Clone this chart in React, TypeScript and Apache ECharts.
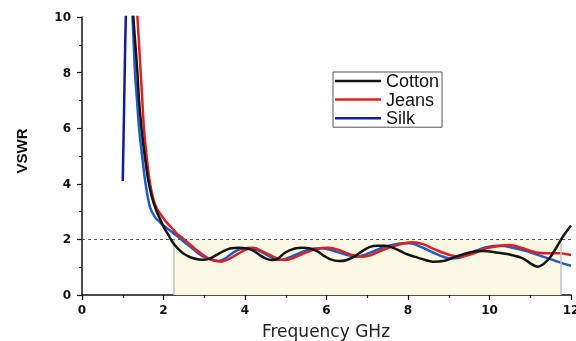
import React, { useEffect, useRef } from "react";
import * as echarts from "echarts";

const seriesNames = ["Cotton", "Jeans", "Silk"];
const xTicks = [0, 2, 4, 6, 8, 10, 12];
const yTicks = [0, 2, 4, 6, 8, 10];
const bandStart = 2.25;
const bandEnd = 11.75;
const vswrLimit = 2;

const cotton: number[][] = [
  [1.22, 11], [1.26, 10], [1.31, 9], [1.36, 8], [1.4, 7.0], [1.46, 6.0], [1.54, 5.0], [1.63, 4.1], [1.72, 3.5],
  [1.82, 3.05], [1.92, 2.72], [2.0, 2.46], [2.12, 2.16], [2.24, 1.86], [2.36, 1.66], [2.48, 1.5],
  [2.6, 1.4], [2.73, 1.32], [2.87, 1.28], [3.0, 1.27], [3.15, 1.32], [3.3, 1.44], [3.45, 1.56],
  [3.63, 1.67], [3.85, 1.7], [4.05, 1.67], [4.2, 1.6], [4.35, 1.45], [4.5, 1.32], [4.65, 1.26],
  [4.8, 1.3], [4.98, 1.52], [5.22, 1.67], [5.4, 1.7], [5.6, 1.67], [5.79, 1.56], [5.95, 1.4],
  [6.1, 1.28], [6.3, 1.22], [6.5, 1.26], [6.7, 1.4], [6.86, 1.56], [7.05, 1.72], [7.25, 1.77],
  [7.43, 1.77], [7.67, 1.68], [7.92, 1.5], [8.16, 1.38], [8.4, 1.27], [8.61, 1.2], [8.86, 1.22],
  [9.18, 1.38], [9.51, 1.53], [9.84, 1.58], [10.16, 1.53], [10.49, 1.46], [10.82, 1.32],
  [11.0, 1.14], [11.18, 1.02], [11.31, 1.1], [11.47, 1.32], [11.63, 1.68], [11.8, 2.1], [12.0, 2.5],
];

const jeans: number[][] = [
  [1.32, 11], [1.36, 10], [1.4, 9], [1.44, 8], [1.48, 7], [1.52, 6], [1.585, 5], [1.67, 4], [1.76, 3.4], [1.84, 3.1],
  [1.91, 2.94], [2.07, 2.62], [2.2, 2.42], [2.32, 2.22], [2.45, 2.07], [2.57, 1.92], [2.69, 1.77],
  [2.81, 1.62], [2.97, 1.44], [3.1, 1.32], [3.22, 1.25], [3.42, 1.2], [3.56, 1.26], [3.71, 1.38],
  [3.95, 1.58], [4.2, 1.7], [4.44, 1.56], [4.69, 1.38], [4.85, 1.28], [5.0, 1.26], [5.2, 1.34],
  [5.45, 1.5], [5.75, 1.65], [6.05, 1.7], [6.3, 1.62], [6.6, 1.45], [6.88, 1.38], [7.1, 1.44],
  [7.35, 1.6], [7.65, 1.76], [7.9, 1.86], [8.1, 1.9], [8.37, 1.83], [8.69, 1.62], [9.02, 1.44],
  [9.26, 1.38], [9.59, 1.48], [9.92, 1.68], [10.25, 1.77], [10.49, 1.8], [10.82, 1.68],
  [11.14, 1.53], [11.47, 1.5], [11.71, 1.5], [12.0, 1.44],
];

const silkRise: number[][] = [
  [1.0, 4.1], [1.03, 6.5], [1.06, 9], [1.09, 11],
];

const silk: number[][] = [
  [1.2, 11], [1.24, 10], [1.27, 9], [1.3, 8], [1.35, 7], [1.4, 6], [1.475, 5], [1.56, 4], [1.67, 3.15], [1.79, 2.8],
  [1.91, 2.62], [2.0, 2.5], [2.16, 2.32], [2.28, 2.18], [2.4, 2.04], [2.52, 1.89], [2.65, 1.74],
  [2.77, 1.6], [2.89, 1.46], [3.02, 1.35], [3.14, 1.29], [3.34, 1.22], [3.5, 1.3], [3.63, 1.44],
  [3.75, 1.56], [3.87, 1.64], [4.12, 1.7], [4.36, 1.58], [4.61, 1.38], [4.82, 1.26], [5.0, 1.3],
  [5.2, 1.42], [5.45, 1.58], [5.7, 1.67], [5.9, 1.68], [6.15, 1.6], [6.45, 1.46], [6.73, 1.38],
  [6.95, 1.45], [7.2, 1.6], [7.5, 1.76], [7.8, 1.85], [8.04, 1.86], [8.37, 1.7], [8.69, 1.48],
  [9.02, 1.32], [9.26, 1.34], [9.59, 1.55], [9.92, 1.72], [10.25, 1.77], [10.57, 1.7],
  [10.9, 1.58], [11.31, 1.38], [11.63, 1.22], [12.0, 1.05],
];

const colors = { cotton: "#151515", jeans: "#e02020", silk: "#1f5cc6", silkDark: "#0c1c9c" };

export default function App() {
  const ref = useRef<HTMLDivElement>(null);
  useEffect(() => {
    if (!ref.current) return;
    const chart = echarts.init(ref.current, undefined, { renderer: "svg" });
    const tickFont = { fontFamily: "DejaVu Sans", fontWeight: "bold" as const, fontSize: 12, color: "#111" };
    const axisCommon = {
      type: "value" as const,
      interval: 2,
      axisLine: { show: true, onZero: false, lineStyle: { color: "#111", width: 1.5 } },
      axisTick: { show: true, inside: false, length: 5, lineStyle: { color: "#111", width: 1.2 } },
      minorTick: { show: true, splitNumber: 2, length: 3, lineStyle: { color: "#111", width: 1.2 } },
      splitLine: { show: false },
    };
    const lineBase = {
      type: "line" as const,
      showSymbol: false,
      smooth: 0.3,
      clip: true,
    };
    chart.setOption({
      animation: false,
      grid: { left: 82, right: 5, top: 17, bottom: 46, containLabel: false, outerBoundsMode: "none" },
      xAxis: {
        ...axisCommon,
        min: xTicks[0],
        max: xTicks[xTicks.length - 1],
        axisLabel: { ...tickFont, margin: 9 },
      },
      yAxis: {
        ...axisCommon,
        min: yTicks[0],
        max: yTicks[yTicks.length - 1],
        axisLabel: { ...tickFont, margin: 11 },
      },
      legend: {
        orient: "vertical",
        left: 333,
        top: 72,
        itemWidth: 46,
        itemHeight: 2.5,
        itemGap: 0.6,
        padding: [0, 3, 0, 2],
        borderColor: "#555",
        borderWidth: 1,
        textStyle: { fontFamily: "Liberation Sans, Arial", fontSize: 18, lineHeight: 18, color: "#111" },
        data: [
          { name: seriesNames[0], icon: "rect", itemStyle: { color: colors.cotton } },
          { name: seriesNames[1], icon: "rect", itemStyle: { color: colors.jeans } },
          { name: seriesNames[2], icon: "rect", itemStyle: { color: colors.silkDark } },
        ],
      },
      graphic: [
        {
          type: "text",
          x: 21,
          y: 151,
          rotation: Math.PI / 2,
          style: {
            text: "VSWR",
            align: "center",
            verticalAlign: "middle",
            font: "bold 15px 'Liberation Sans', Arial",
            fill: "#111",
          },
        },
        {
          type: "text",
          x: 326,
          y: 331,
          style: {
            text: "Frequency GHz",
            align: "center",
            verticalAlign: "middle",
            font: "17px 'DejaVu Sans'",
            fill: "#222",
          },
        },
      ],
      series: [
        {
          ...lineBase,
          name: seriesNames[0],
          data: cotton,
          z: 5,
          lineStyle: { color: colors.cotton, width: 2.5 },
          itemStyle: { color: colors.cotton },
          markArea: {
            silent: true,
            itemStyle: { color: "#FBF9E4" },
            data: [[{ coord: [bandStart, 0] }, { coord: [bandEnd, vswrLimit] }]],
          },
          markLine: {
            silent: true,
            symbol: ["none", "none"],
            label: { show: false },
            data: [
              { yAxis: vswrLimit, lineStyle: { color: "#555", width: 1, type: [3, 3] } },
              [
                { coord: [bandStart, 0], lineStyle: { color: "#c4c4c4", width: 1.5, type: "solid" } },
                { coord: [bandStart, vswrLimit] },
              ],
              [
                { coord: [bandEnd, 0], lineStyle: { color: "#c4c4c4", width: 1.5, type: "solid" } },
                { coord: [bandEnd, vswrLimit] },
              ],
            ],
          },
        },
        {
          ...lineBase,
          name: seriesNames[1],
          data: jeans,
          z: 4,
          lineStyle: { color: colors.jeans, width: 2.5 },
          itemStyle: { color: colors.jeans },
        },
        {
          ...lineBase,
          name: seriesNames[2],
          data: silkRise,
          smooth: false,
          z: 3,
          lineStyle: { color: colors.silkDark, width: 2.5 },
          itemStyle: { color: colors.silkDark },
        },
        {
          ...lineBase,
          name: seriesNames[2],
          data: silk,
          z: 3,
          lineStyle: { color: colors.silk, width: 2.5 },
          itemStyle: { color: colors.silk },
        },
      ],
    });
    return () => chart.dispose();
  }, []);
  return <div ref={ref} style={{ position: "fixed", left: 0, top: 0, width: 576, height: 341 }} />;
}
